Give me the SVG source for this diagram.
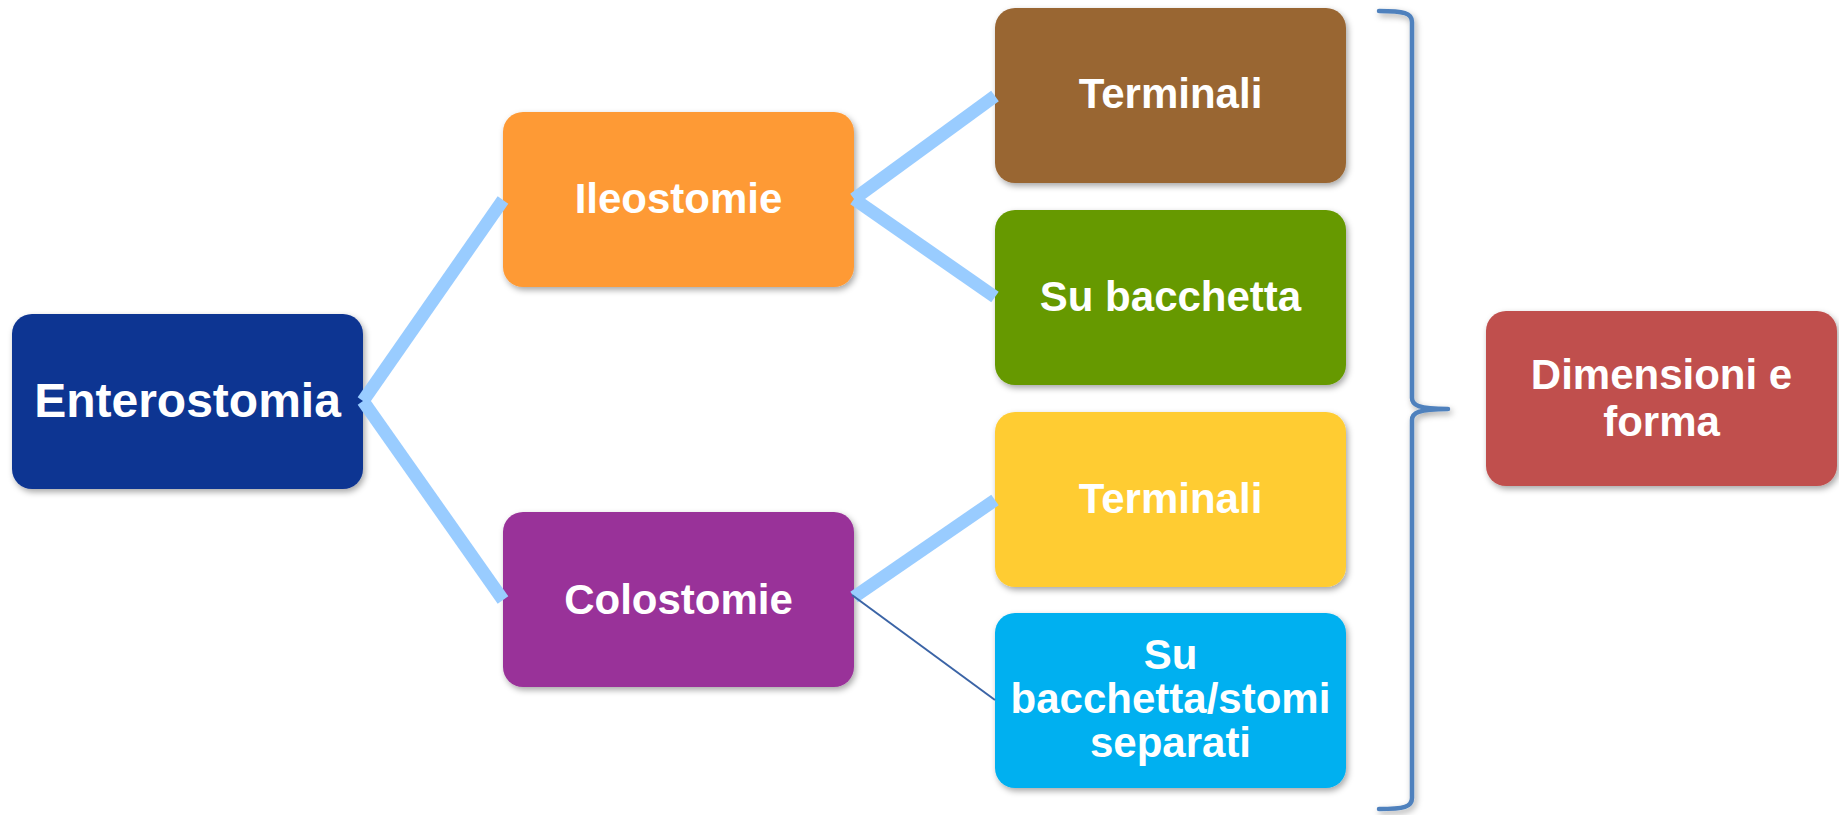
<svg xmlns="http://www.w3.org/2000/svg" width="1839" height="815" viewBox="0 0 1839 815">
<defs>
<filter id="sh" x="-10%" y="-10%" width="130%" height="130%">
<feDropShadow dx="2" dy="3" stdDeviation="3" flood-color="#000" flood-opacity="0.35"/>
</filter>
<style>
.box{filter:url(#sh)}
.t{font-family:"Liberation Sans",Arial,sans-serif;font-weight:bold;fill:#fff;text-anchor:middle;font-size:42px}
.thick{stroke:#99CCFF;stroke-width:13;fill:none;stroke-linecap:butt}
.thin{stroke:#3B64A6;stroke-width:2;fill:none}
.brace{stroke:#4F81BD;stroke-width:4.5;fill:none;stroke-linecap:round;filter:url(#sh)}
</style>
</defs>
<rect width="1839" height="815" fill="#fff"/>
<g id="enterostomia">
<rect class="box" x="12" y="314" width="351" height="175" rx="20" fill="#0D3592"/>
<text class="t" x="187.5" y="417" style="font-size:48px">Enterostomia</text>
</g>
<g id="ileostomie">
<rect class="box" x="503" y="112" width="351" height="175" rx="20" fill="#FE9A36"/>
<text class="t" x="678.5" y="213">Ileostomie</text>
</g>
<g id="colostomie">
<rect class="box" x="503" y="512" width="351" height="175" rx="20" fill="#993399"/>
<text class="t" x="678.5" y="614">Colostomie</text>
</g>
<g id="terminali-ileo">
<rect class="box" x="995" y="8" width="351" height="175" rx="20" fill="#996633"/>
<text class="t" x="1170.5" y="108">Terminali</text>
</g>
<g id="su-bacchetta">
<rect class="box" x="995" y="210" width="351" height="175" rx="20" fill="#669900"/>
<text class="t" x="1170.5" y="311">Su bacchetta</text>
</g>
<g id="terminali-colo">
<rect class="box" x="995" y="412" width="351" height="175" rx="20" fill="#FFCC33"/>
<text class="t" x="1170.5" y="513">Terminali</text>
</g>
<g id="su-bacchetta-stomi">
<rect class="box" x="995" y="613" width="351" height="175" rx="20" fill="#00B0F0"/>
<text class="t" x="1170.5" y="669">Su</text>
<text class="t" x="1170.5" y="713">bacchetta/stomi</text>
<text class="t" x="1170.5" y="757">separati</text>
</g>
<g id="dimensioni">
<rect class="box" x="1486" y="311" width="351" height="175" rx="20" fill="#C0504D"/>
<text class="t" x="1661.5" y="389">Dimensioni e</text>
<text class="t" x="1661.5" y="436">forma</text>
</g>
<g id="brace">
<path class="brace" d="M1379,11 C1404,11 1412,13 1412,22 L1412,398 C1412,405 1418,409 1448,409 M1448,409 C1418,409 1412,413 1412,420 L1412,798 C1412,807 1404,809 1379,809"/>
</g>
<g id="connectors">
<line class="thick" x1="363" y1="401" x2="503" y2="200"/>
<line class="thick" x1="363" y1="401" x2="503" y2="600"/>
<line class="thick" x1="854" y1="199" x2="995" y2="96"/>
<line class="thick" x1="854" y1="199" x2="995" y2="297"/>
<line class="thick" x1="854" y1="597" x2="995" y2="500"/>
<line class="thin" x1="852" y1="595" x2="995" y2="700"/>
</g>
</svg>
